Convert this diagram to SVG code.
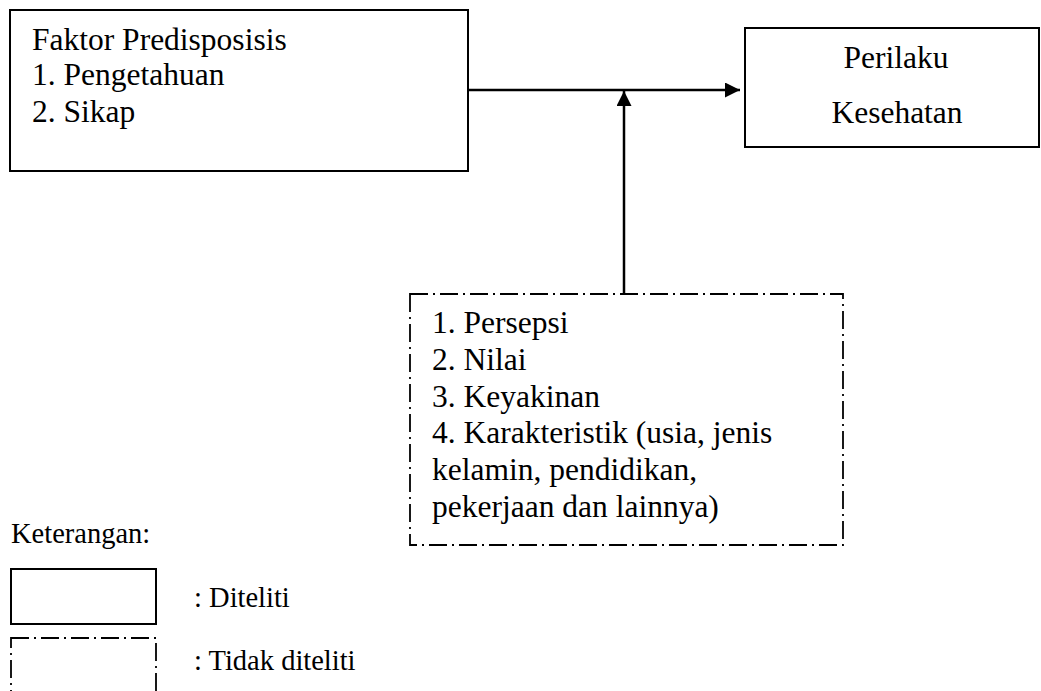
<svg xmlns="http://www.w3.org/2000/svg" width="1041" height="691" viewBox="0 0 1041 691">
<defs>
<style>
.box{fill:#fff;stroke:#000;stroke-width:2}
.dbox{fill:none;stroke:#000;stroke-width:1.8;stroke-dasharray:18 5 2 5}
.t{font-family:"Liberation Serif","Times New Roman",serif;font-size:31.5px;fill:#000}
.lt{font-family:"Liberation Serif","Times New Roman",serif;font-size:28.5px;fill:#000}
.c{stroke:#000;stroke-width:2.5;fill:none}
</style>
<marker id="ah" markerUnits="userSpaceOnUse" viewBox="0 0 15 15" refX="15" refY="7.5" markerWidth="15" markerHeight="15" orient="auto">
<path d="M0,0 L15,7.5 L0,15 Z" fill="#000"/>
</marker>
</defs>
<rect width="1041" height="691" fill="#fff"/>
<g id="connectors">
<line class="c" x1="468" y1="90" x2="740" y2="90" marker-end="url(#ah)"/>
<line class="c" x1="624" y1="294" x2="624" y2="91" marker-end="url(#ah)"/>
</g>
<g id="faktor">
<rect class="box" x="10" y="10" width="458" height="161"/>
<text class="t" x="32" y="50">Faktor Predisposisis</text>
<text class="t" x="32" y="85">1. Pengetahuan</text>
<text class="t" x="32" y="122">2. Sikap</text>
</g>
<g id="perilaku">
<rect class="box" x="745" y="28" width="294" height="119"/>
<text class="t" x="896" y="68" text-anchor="middle">Perilaku</text>
<text class="t" x="897" y="123" text-anchor="middle">Kesehatan</text>
</g>
<g id="lain">
<rect class="dbox" x="410" y="294" width="433" height="251"/>
<text class="t" x="432" y="333">1. Persepsi</text>
<text class="t" x="432" y="370">2. Nilai</text>
<text class="t" x="432" y="407">3. Keyakinan</text>
<text class="t" x="432" y="443">4. Karakteristik (usia, jenis</text>
<text class="t" x="432" y="480">kelamin, pendidikan,</text>
<text class="t" x="432" y="517">pekerjaan dan lainnya)</text>
</g>
<g id="legend">
<text class="lt" x="11" y="543">Keterangan:</text>
<rect class="box" x="11" y="569" width="145" height="55"/>
<text class="lt" x="194" y="607">: Diteliti</text>
<rect class="dbox" x="11" y="638" width="145" height="70"/>
<text class="lt" x="194" y="670">: Tidak diteliti</text>
</g>
</svg>
